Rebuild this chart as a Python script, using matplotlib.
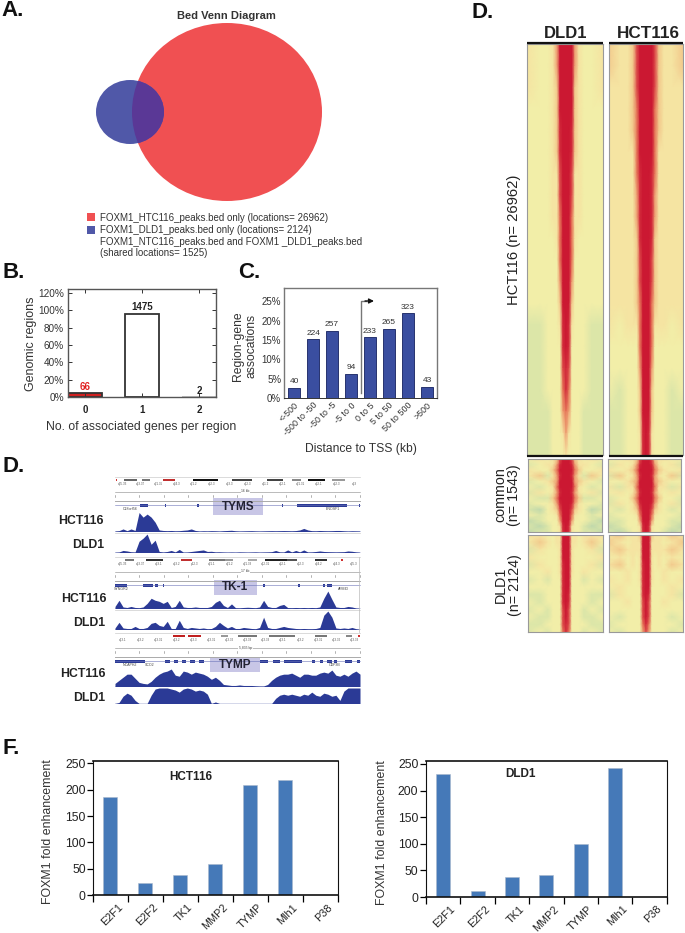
#!/usr/bin/env python
# -*- coding: utf-8 -*-
import matplotlib
matplotlib.use('Agg')
import matplotlib.pyplot as plt
import numpy as np
from matplotlib.colors import LinearSegmentedColormap
from matplotlib.patches import Ellipse, Rectangle

plt.rcParams['font.family'] = ['Liberation Sans', 'DejaVu Sans']

W, H = 685, 933

# panel A
venn_legend = ['FOXM1_HTC116_peaks.bed only (locations= 26962)',
               'FOXM1_DLD1_peaks.bed only (locations= 2124)',
               'FOXM1_NTC116_peaks.bed and FOXM1 _DLD1_peaks.bed',
               '(shared locations= 1525)']

# panel B
b_categories = ['0', '1', '2']
b_percent = [4.3, 96, 0.15]
b_counts = ['66', '1475', '2']
b_ticks = [0, 20, 40, 60, 80, 100, 120]

# panel C
c_categories = ['<-500', '-500 to -50', '-50 to -5', '-5 to 0', '0 to 5', '5 to 50', '50 to 500', '>500']
c_percent = [2.7, 15.2, 17.4, 6.3, 15.7, 17.9, 21.9, 2.9]
c_counts = [40, 224, 257, 94, 233, 265, 323, 43]
c_ticks = [0, 5, 10, 15, 20, 25]

# panel F
f_genes = ['E2F1', 'E2F2', 'TK1', 'MMP2', 'TYMP', 'Mlh1', 'P38']
f_hct116 = [186, 23, 38, 60, 209, 219, 0]
f_dld1 = [231, 12, 37, 42, 99, 242, 0]
f_ticks = [0, 50, 100, 150, 200, 250]

tyms_hct = [.5, .8, 2.5, .8, 2.5, 1, 18.5, 14, 17, 14, 9, 1.5, 1, .8, 1, .7, .8, 1.2, 1.5, 2.5, 1, .5, .7, .6,
            .8, .7, .5, .8, 1, 1.2, .7, .5, .6, .7, .8, .6, .5, .6, .7, .8, .7, .8, .9, .8, .7, .9, 1.5, 3,
            1.5, .8, .7, 1, .8, .7, .8, 1, 1, .7, .5, .7, .6, .5]
tyms_dld = [.3, .5, 2, 1.5, .7, .5, 11, 14, 18, 8, 12, 1, .5, 1, 2, .6, 3, .4, .5, 1, 1.5, 2, 2.5, 1, 1.2, .6,
            .7, .5, .4, .5, .4, .6, .5, .4, .5, .6, .4, .5, .6, .8, 2, .6, .5, 2.5, .5, 2, .6, 2.5, .5, .6,
            1, 1.5, 1, .8, .7, .6, .7, .8, 1.5, 1.2, .6, .3]
tk1_hct = [2, 8, 1.5, 1, 2, 1, .8, 1.5, 5, 10, 8, 7, 5, 7, 1, 2, 8, 1.5, 1, 1, 1.5, 1, 1, 1, 2, 6, 8, 3, 1, 4.5,
           .8, .7, 1, 1.2, 1, .8, 1.5, 8, 2, 1, 1, 3, 4, .9, .8, 1, .8, 1, .8, 1, .8, 1.5, 10, 17, 9, 1.5,
           1, 1, 2, 1.5, .5, .3]
tk1_dld = [1.5, 7, 1.5, 1, 1, 3, 1, 1, 2, 6, 7, 4, 3, 8, 1, 1, 9, 2, 1, 2, 1.5, 1, 1.5, .8, 1, 3, 7, 4, 1.5, 3,
           1, 1, 2, 1.5, 1, .8, 2, 12, 2, 1, 1, 2, 3, 2, 1.5, 1, .8, 1, .8, .8, 1, 2, 14, 18, 12, 1.5, 1,
           1.5, 1, 2, .8, .3]
tymp_hct = [3, 6, 9, 12, 12, 8, 4, 3, 2.5, 5, 9, 12, 14, 15, 17, 11, 10, 15, 14, 12, 14, 13, 12, 10, 7, 9, 6, 2,
            1.5, 1, 1, 1.5, 1, 1, 1, .7, .5, .5, 2, 6, 9, 11, 12, 12, 13, 11, 9, 12, 12, 11, 11, 13, 14, 13,
            16, 11, 10, 12, 10, 13, 15, 12]
tymp_dld = [0, 1, 7, 10, 8, 3, 0, 0, 0, 8, 14, 15, 15, 15, 14, 13, 11, 14, 15, 14, 12, 13, 12, 9, 0, 1.5, 0, 0,
            0, 0, 0, 0, 0, 0, 0, 0, 0, 0, 0, 0, 5, 8, 9, 8, 9, 8, 7, 9, 8, 11, 8, 7, 10, 9, 7, 8, 3, 12, 15,
            15, 15, 15]

tyms_bands = [(1, 2.3, '#d03030'), (9, 22, '#666666'), (27, 35, '#777777'), (48, 60, '#c03030'), (78, 103, '#111111'),
              (117, 137, '#444444'), (152, 168, '#444444'), (177, 186, '#888888'), (193, 210, '#111111'), (217, 230, '#999999')]
tk1_bands = [(10, 19, '#777777'), (31, 48, '#333333'), (66, 77, '#c03030'), (94, 110, '#777777'), (110, 118, '#999999'),
             (133, 142, '#aaaaaa'), (150, 172, '#222222'), (172, 182, '#555555'), (200, 212, '#333333'), (226, 228, '#d03030')]
tymp_bands = [(58, 70, '#c02020'), (73, 86, '#c02020'), (106, 113, '#999999'), (123, 142, '#777777'), (154, 180, '#777777'),
              (200, 212, '#777777'), (231, 237, '#888888'), (243, 245, '#d03030')]

tyms_exons = [(25, 33), (50, 51), (82, 84), (167, 168), (182, 232), (244, 245)]
tk1_exons = [(0, 12), (28, 38), (40, 43), (48, 49), (148, 150), (183, 185), (208, 210), (212, 217)]
tymp_exons = [(0, 30), (50, 55), (59, 63), (67, 71), (75, 80), (84, 89), (145, 153), (158, 165), (169, 187), (197, 200),
              (205, 208), (212, 217), (219, 222), (230, 237), (242, 245)]

cyto_tyms = ['q25.33', 'q23.37', 'q21.35', 'q24.3', 'q21.2', 'q22.3', 'q23.3', 'q12.3', 'q11.2', 'q12.1', 'q21.31', 'q22.1', 'q22.3', 'q23']
cyto_tk1 = ['q25.33', 'q23.37', 'q23.1', 'q23.2', 'p12.3', 'q21.1', 'q21.2', 'q21.33', 'q12.31', 'q22.1', 'q22.3', 'q24.2', 'q24.3', 'q25.3']
cyto_tymp = ['q13.1', 'q13.2', 'q13.31', 'q13.2', 'q13.3', 'q13.31', 'q13.32', 'q13.33', 'q13.33', 'q13.1', 'q13.2', 'q13.31', 'q13.32', 'q13.33']

# heat maps, one digit per cell (0 green, 2 yellow, 9 red), columns at heat_cols
heat_cols = [-39, -26, -18, -13, -9, -6, -3, 0, 3, 6, 9, 13, 18, 26, 37]
main_dld1 = ['322359999953223', '322359999953223', '322349999943223', '222349999943222', '222348999843222',
             '222348999843222', '222337999733222', '222337999733222', '222336999633222', '222236999632222',
             '222226999622222', '222225999522222', '222224999422222', '112223898322211', '112222898222211',
             '112222787222211', '112222686222211', '111222565222111', '111222353222111', '111222232222111']
main_hct = ['433479999974334', '433479999974334', '333479999974333', '333469999964333', '333469999964333',
            '333369999963333', '333368999863333', '333358999853333', '333358999853333', '333348999843333',
            '333347999743333', '333347999743333', '333346999643333', '323336999633323', '222226999622222',
            '222225999522222', '212224999422212', '112224999422211', '112223898322211', '112223898322211']
common_dld1 = ['232347999743232', '123358999853321', '322469999964223', '241358999853142', '123459999954321',
               '212369999963212', '132358999853231', '211469999964112', '122358999853221', '102347999743201',
               '212236999632212', '012225999522210', '101223898322101', '011223898322110']
common_hct = ['223347999743322', '132358999853231', '323469999964323', '142358999853241', '223459999954322',
              '313369999963313', '232358999853232', '122469999964221', '132358999853231', '212347999743212',
              '122236999632221', '112225999522211', '012223898322210', '101223898322101']
dld_dld1 = ['332233999332333', '243233999332342', '132223999322231', '322223999322223', '132223899322231',
            '223223899322322', '121222899222121', '222222899222222', '112222898222211', '212222898222212',
            '121222797222121', '211222797222112', '112222787222211', '121222686222121']
dld_hct = ['343334999433343', '432333999333234', '343333999333343', '232323999323232', '342323899323243',
           '223223899322322', '323223899322323', '232222899222232', '132222898222231', '223222797222322',
           '222222797222222', '212222797222212', '122222686222221', '212222575222212']

heat_cmap = LinearSegmentedColormap.from_list('peaks', ['#bfd8ac', '#dce6a8', '#f3eea8', '#f5e4a2', '#f2c98c', '#ee9f72',
                                                        '#e67558', '#dc4a48', '#d22a3a', '#cb1832'])

fig = plt.figure(figsize=(W / 100, H / 100), dpi=100)


def px_axes(x0, y0, x1, y1):
    return fig.add_axes([x0 / W, 1 - y1 / H, (x1 - x0) / W, (y1 - y0) / H])


page = fig.add_axes([0, 0, 1, 1], zorder=5)
page.set_xlim(0, W)
page.set_ylim(H, 0)
page.axis('off')
page.patch.set_alpha(0)

for txt, x, y in [('A.', 1, 11), ('B.', 2, 273), ('C.', 238, 272), ('D.', 2, 467), ('D.', 472, 13), ('F.', 2, 748)]:
    page.text(x, y, txt, fontsize=16, fontweight='bold', va='center', color='#111111')

# A: venn
page.text(226, 16, 'Bed Venn Diagram', fontsize=8, fontweight='bold', ha='center', va='center', color='#333333')
big = Ellipse((227, 112), 190, 178, color='#f05052', lw=0)
small = Ellipse((130, 112), 68, 64, color='#5058a8', lw=0)
page.add_patch(big)
page.add_patch(small)
overlap = Ellipse((130, 112), 68, 64, color='#5a3896', lw=0)
page.add_patch(overlap)
overlap.set_clip_path(big)
for y, c in [(217, '#f05052'), (230, '#5058a8')]:
    page.add_patch(Rectangle((87, y - 4), 8, 8, color=c, lw=0))
for y, line in zip([218, 230, 242, 253], venn_legend):
    page.text(100, y, line, fontsize=7, va='center', color='#333333')

# B
ax = px_axes(68, 289, 216, 397)
ax.bar(range(3), b_percent, width=0.6, color=['#d02020', 'white', 'white'], edgecolor=['#333333', '#333333', '#bbbbbb'], linewidth=1.3)
ax.set_xlim(-0.307, 2.3)
ax.set_ylim(0, 124.6)
ax.set_yticks(b_ticks)
ax.set_yticklabels(['%d%%' % t for t in b_ticks], fontsize=7.2, color='#333333')
ax.set_xticks(range(3))
ax.set_xticklabels(b_categories, fontsize=7, fontweight='bold', color='#222222')
ax.tick_params(axis='both', direction='in', length=3, width=0.7, top=True, right=True, color='#333333', pad=3)
ax.tick_params(axis='x', pad=6)
for s in ax.spines.values():
    s.set_color('#555555')
    s.set_linewidth(1)
for i, (v, lab) in enumerate(zip(b_percent, b_counts)):
    ax.text(i, v + 1.5, lab, fontsize=7, fontweight='bold', ha='center', va='bottom', color='#e02020' if i == 0 else '#222222')
page.text(31, 344, 'Genomic regions', fontsize=9, rotation=90, ha='center', va='center', color='#333333')
page.text(141, 427, 'No. of associated genes per region', fontsize=8.8, ha='center', va='center', color='#333333')

# C
ax = px_axes(284, 288, 437, 398)
ax.bar(range(8), c_percent, width=0.62, color='#3a4ea0', edgecolor='#27336f', linewidth=0.7)
ax.set_xlim(-0.53, 7.53)
ax.set_ylim(0, 28.4)
ax.set_yticks(c_ticks)
ax.set_yticklabels(['%d%%' % t for t in c_ticks], fontsize=7, color='#333333')
ax.set_xticks(range(8))
ax.set_xticklabels(c_categories, fontsize=6.4, rotation=45, ha='right', rotation_mode='anchor', color='#333333')
ax.tick_params(axis='both', length=0, pad=2)
for name, s in ax.spines.items():
    s.set_color('#333333' if name == 'bottom' else '#777777')
    s.set_linewidth(0.7 if name == 'bottom' else 1)
for i, (v, n) in enumerate(zip(c_percent, c_counts)):
    ax.text(i, v + 0.6, str(n), fontsize=6, ha='center', va='bottom', color='#333333')
page.plot([360.7, 360.7, 366], [393, 301, 301], color='#777777', lw=1)
page.annotate('', xy=(374, 301), xytext=(365, 301), arrowprops=dict(arrowstyle='-|>', color='#111111', lw=1, mutation_scale=7, shrinkA=0, shrinkB=0))
page.text(245, 346, 'Region-gene\nassocations', fontsize=8.7, rotation=90, ha='center', va='center', linespacing=1.2, color='#333333')
page.text(361, 449, 'Distance to TSS (kb)', fontsize=8.7, ha='center', va='center', color='#333333')


# D: browser views
def locus(top, bands, cyto, ruler, exons, genes, box, name):
    x0, x1 = 115, 360
    page.plot([x0, x1], [top - 3, top - 3], color='#cccccc', lw=0.5)
    for a, b, c in bands:
        page.add_patch(Rectangle((x0 + a, top - 1.2), b - a, 2.4, color=c, lw=0))
    for xp, lab in zip(np.linspace(x0 + 8, x1 - 6, len(cyto)), cyto):
        page.text(xp, top + 4, lab, fontsize=2.2, ha='center', va='center', color='#555555')
    page.plot([x0, x1], [top + 11.5, top + 11.5], color='#888888', lw=0.4)
    page.text((x0 + x1) / 2 + 8, top + 11.5, ruler, fontsize=2.4, ha='center', va='center', color='#444444',
              bbox=dict(fc='white', ec='none', pad=0.5))
    for xp in np.linspace(x0, x1, 11):
        page.plot([xp, xp], [top + 15, top + 17], color='#777777', lw=0.4)
    page.plot([x0, x1], [top + 21, top + 21], color='#aaaaaa', lw=0.7)
    page.plot([x0, x1], [top + 25, top + 25], color='#6a72b8', lw=0.4)
    for a, b in exons:
        page.add_patch(Rectangle((x0 + a, top + 23.5), b - a, 3, color='#2b3a96', lw=0))
    for xp, lab in genes:
        page.text(x0 + xp, top + 28.5, lab, fontsize=2.6, ha='center', va='center', color='#444444')
    bx0, by0, bx1, by1 = box
    page.add_patch(Rectangle((bx0, by0), bx1 - bx0, by1 - by0, color='#c8c6e6', lw=0))
    page.text((bx0 + bx1) / 2, (by0 + by1) / 2, name, fontsize=8.5, fontweight='bold', ha='center', va='center', color='#222233')


def track(base, values, hmax):
    ax = px_axes(115, base - hmax, 360, base + 0.5)
    ax.fill_between(np.arange(len(values)), values, color='#2b3a96', lw=0)
    ax.set_xlim(0, len(values) - 1)
    ax.set_ylim(0, hmax)
    ax.axhline(0, color='#2b3a96', lw=1)
    ax.axis('off')


locus(480, tyms_bands, cyto_tyms, '16 kb', tyms_exons, [(15, 'C18orf56'), (218, 'ENOSF1')], (213, 498, 263, 515), 'TYMS')
locus(560, tk1_bands, cyto_tk1, '17 kb', tk1_exons, [(6, 'SYNGR2'), (228, 'AFMID')], (214, 580, 257, 595), 'TK-1')
locus(636, tymp_bands, cyto_tymp, '5,835 bp', tymp_exons, [(15, 'NCAPH2'), (35, 'SCO2'), (220, 'ODF3B')], (210, 657, 260, 672), 'TYMP')
track(531, tyms_hct, 20)
track(552, tyms_dld, 20)
track(608, tk1_hct, 20)
track(629, tk1_dld, 20)
track(686, tymp_hct, 18)
track(703, tymp_dld, 15)
page.plot([115, 360], [533, 533], color='#cccccc', lw=0.5)
page.plot([115, 360], [610, 610], color='#cccccc', lw=0.5)
page.plot([359, 359], [557, 632], color='#bbbbbb', lw=0.5)
for x, y, lab in [(104, 521, 'HCT116'), (104, 545, 'DLD1'), (107, 599, 'HCT116'), (105, 623, 'DLD1'), (106, 674, 'HCT116'), (105, 698, 'DLD1')]:
    page.text(x, y, lab, fontsize=8.8, fontweight='bold', ha='right', va='center', color='#222222')


# heat maps
def heat(box, rows, center):
    x0, y0, x1, y1 = box
    ax = px_axes(x0, y0, x1, y1)
    z = np.array([[int(c) for c in r] for r in rows], dtype=float)
    ax.pcolormesh(np.array(heat_cols) + center - x0, np.arange(len(rows)), z, shading='gouraud', cmap=heat_cmap, vmin=0, vmax=9, rasterized=True)
    ax.set_xlim(0, x1 - x0)
    ax.set_ylim(len(rows) - 1, 0)
    ax.set_xticks([])
    ax.set_yticks([])
    for s in ax.spines.values():
        s.set_color('#999999')
        s.set_linewidth(0.8)


heat((527, 44, 603, 455), main_dld1, 566)
heat((609, 44, 683, 455), main_hct, 646)
heat((528, 459, 602, 532), common_dld1, 566)
heat((608, 459, 681, 532), common_hct, 646)
heat((528, 535, 603, 632), dld_dld1, 566)
heat((609, 535, 683, 632), dld_hct, 646)
for y in [43, 455.5]:
    page.plot([527, 603], [y, y], color='#111111', lw=1.6, solid_capstyle='butt')
    page.plot([609, 683], [y, y], color='#111111', lw=1.6, solid_capstyle='butt')
page.text(566, 33, 'DLD1', fontsize=12, fontweight='bold', ha='center', va='center', color='#222222')
page.text(648, 33, 'HCT116', fontsize=12.3, fontweight='bold', ha='center', va='center', color='#222222')
page.text(514, 240, 'HCT116 (n= 26962)', fontsize=10.6, rotation=90, ha='center', va='center', color='#222222')
page.text(507.5, 495, 'common\n(n= 1543)', fontsize=10.3, rotation=90, ha='center', va='center', linespacing=1.0, color='#222222')
page.text(508, 585, 'DLD1\n(n= 2124)', fontsize=10.3, rotation=90, ha='center', va='center', linespacing=1.0, color='#222222')


# F: enrichment bars
def enrichment(box, values, title, title_xy, y250, y0val, offset):
    x0, y0, x1, y1 = box
    ax = px_axes(x0, y0, x1, y1)
    ax.bar(np.arange(7) + offset, values, width=0.41, color='#4579b8', edgecolor='#a9b8cc', linewidth=0.4)
    ax.set_xlim(0, 7)
    per = (y0val - y250) / 250.0
    ax.set_ylim((y0val - y1) / per, (y0val - y0) / per)
    ax.set_yticks(f_ticks)
    ax.set_yticklabels(f_ticks, fontsize=8.8, color='#222222')
    ax.set_xticks(np.arange(8))
    ax.set_xticklabels([])
    ax.tick_params(axis='y', length=4, width=0.9, pad=1.5)
    ax.tick_params(axis='x', length=5, width=0.9)
    for i, g in enumerate(f_genes):
        ax.annotate(g, xy=(i + 0.7, 0), xycoords=('data', 'axes fraction'), xytext=(0, -5), textcoords='offset points',
                    fontsize=7.8, rotation=45, ha='right', va='top', rotation_mode='anchor', color='#222222')
    for name, s in ax.spines.items():
        s.set_color('#111111')
        s.set_linewidth(1.2 if name in ('bottom', 'top') else 0.8)
    page.text(title_xy[0], title_xy[1], title, fontsize=8.5, fontweight='bold', ha='center', va='center', color='#222222')


enrichment((93.3, 760.7, 338, 895.3), f_hct116, 'HCT116', (190.7, 777), 763.3, 895.7, 0.478)
enrichment((426, 760.7, 666.7, 897), f_dld1, 'DLD1', (520.7, 773.7), 764, 897.5, 0.5)
page.text(48, 832, 'FOXM1 fold enhancement', fontsize=8.9, rotation=90, ha='center', va='center', color='#333333')
page.text(382, 833, 'FOXM1 fold enhancement', fontsize=8.9, rotation=90, ha='center', va='center', color='#333333')

fig.savefig('out.png', dpi=100)
